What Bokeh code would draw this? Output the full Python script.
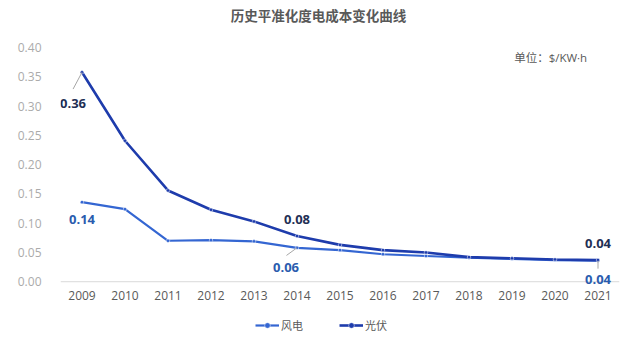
from bokeh.plotting import figure
from bokeh.layouts import column
from bokeh.models import Range1d, Label, Legend, LegendItem, ColumnDataSource, Span, NumeralTickFormatter
from bokeh.embed import file_html
from bokeh.resources import INLINE

years = list(range(2009, 2022))
solar = [0.358, 0.241, 0.156, 0.123, 0.103, 0.078, 0.063, 0.054, 0.050, 0.042, 0.040, 0.038, 0.037]
wind = [0.136, 0.124, 0.070, 0.071, 0.069, 0.058, 0.054, 0.047, 0.044, 0.041, 0.039, 0.037, 0.036]
y_ticks = [0.0, 0.05, 0.10, 0.15, 0.20, 0.25, 0.30, 0.35, 0.40]
series_names = ["风电", "光伏"]
title_text = "历史平准化度电成本变化曲线"
unit_text = "单位：$/KW·h"

SOLAR_C = "#1e3cac"
WIND_C = "#3466d2"
NUM_FONT = "Open Sans"
CJK = "Noto Sans CJK SC"
MIX = "Open Sans, Noto Sans CJK SC"

Y_TOP = 0.4807
p = figure(width=640, height=316, output_backend="svg", toolbar_location=None,
           x_range=Range1d(2008.5, 2021.5), y_range=Range1d(-0.015, Y_TOP),
           min_border_left=60, min_border_right=21, min_border_top=0, min_border_bottom=26)
p.outline_line_color = None
p.grid.visible = False
p.background_fill_color = "white"

p.yaxis.ticker = y_ticks
p.yaxis.formatter = NumeralTickFormatter(format="0.00")
p.yaxis.axis_line_color = None
p.yaxis.major_tick_line_color = None
p.yaxis.minor_tick_line_color = None
p.yaxis.major_label_standoff = 13
p.yaxis.major_label_text_color = "#ababab"
p.yaxis.major_label_text_font = NUM_FONT
p.yaxis.major_label_text_font_size = "12px"

p.xaxis.ticker = years
p.xaxis.axis_line_color = None
p.xaxis.major_tick_line_color = None
p.xaxis.minor_tick_line_color = None
p.xaxis.major_tick_out = 0
p.xaxis.major_label_standoff = 0
p.xaxis.major_label_text_color = "#595959"
p.xaxis.major_label_text_font = NUM_FONT
p.xaxis.major_label_text_font_size = "12px"

p.add_layout(Span(location=0, dimension="width", line_color="#d9d9d9", line_width=1))

src = ColumnDataSource(dict(x=years, solar=solar, wind=wind))
p.line("x", "wind", source=src, line_color=WIND_C, line_width=2.2)
p.scatter("x", "wind", source=src, size=3.5, fill_color=WIND_C, line_color="white", line_width=0.5)
p.line("x", "solar", source=src, line_color=SOLAR_C, line_width=2.6)
p.scatter("x", "solar", source=src, size=3.5, fill_color=SOLAR_C, line_color="white", line_width=0.5)

# leader lines
p.ray(x=[years[0]], y=[solar[0]], length=19, length_units="screen", angle=242, angle_units="deg",
      line_color="#a6a6a6", line_width=1)
p.ray(x=[years[5]], y=[wind[5]], length=13, length_units="screen", angle=216, angle_units="deg",
      line_color="#a6a6a6", line_width=1)
p.ray(x=[years[12]], y=[wind[12]], length=8, length_units="screen", angle=270, angle_units="deg",
      line_color="#a6a6a6", line_width=1)

def vlabel(x, y, txt, color, xo, yo):
    p.add_layout(Label(x=x, y=y, text=txt, x_offset=xo, y_offset=yo,
                       text_align="center", text_baseline="middle",
                       text_font=NUM_FONT, text_font_style="bold",
                       text_font_size="13px", text_color=color))

SL_C = "#1f2f55"
WL_C = "#2a5cae"
vlabel(years[0], solar[0], f"{solar[0]:.2f}", SL_C, -9, -31)
vlabel(years[5], solar[5], f"{solar[5]:.2f}", SL_C, 0, 17)
vlabel(years[12], solar[12], f"{solar[12]:.2f}", SL_C, 0, 17)
vlabel(years[0], wind[0], f"{wind[0]:.2f}", WL_C, 0, -17)
vlabel(years[5], wind[5], f"{wind[5]:.2f}", WL_C, -11, -20)
vlabel(years[12], wind[12], f"{wind[12]:.2f}", WL_C, 0, -19)

# title and unit note (inside the extended frame)
p.add_layout(Label(x=2014.5, y=0.4551, text=title_text, text_align="center", text_baseline="middle",
                   text_font=CJK, text_font_style="bold", text_font_size="13.5px", text_color="#595959"))
p.add_layout(Label(x=2019.05, y=0.3833, text=unit_text, text_align="left", text_baseline="middle",
                   text_font=MIX, text_font_size="11.5px", text_color="#595959"))

# legend strip
lg = figure(width=640, height=35, output_backend="svg", toolbar_location=None,
            x_range=Range1d(0, 1), y_range=Range1d(0, 1), x_axis_type=None, y_axis_type=None,
            min_border_left=0, min_border_right=0, min_border_top=0, min_border_bottom=0)
lg.outline_line_color = None
lg.grid.visible = False
r1 = lg.line(x=[5, 6], y=[5, 5], line_color=WIND_C, line_width=2.2)
r1m = lg.scatter(x=[5], y=[5], size=3.5, fill_color=WIND_C, line_color="white", line_width=0.5)
r2 = lg.line(x=[5, 6], y=[5, 5], line_color=SOLAR_C, line_width=2.6)
r2m = lg.scatter(x=[5], y=[5], size=3.5, fill_color=SOLAR_C, line_color="white", line_width=0.5)
legend = Legend(items=[LegendItem(label=series_names[0], renderers=[r1, r1m]),
                       LegendItem(label=series_names[1], renderers=[r2, r2m])],
                location=(195, 18), orientation="horizontal",
                background_fill_alpha=0, border_line_color=None,
                padding=0, margin=0, spacing=36, label_standoff=2,
                glyph_width=24, glyph_height=14, label_height=14,
                label_text_font=CJK, label_text_font_size="11px", label_text_color="#595959")
lg.add_layout(legend, "center")

layout = column(p, lg, spacing=0)
open("out.html", "w").write(file_html(layout, INLINE))
